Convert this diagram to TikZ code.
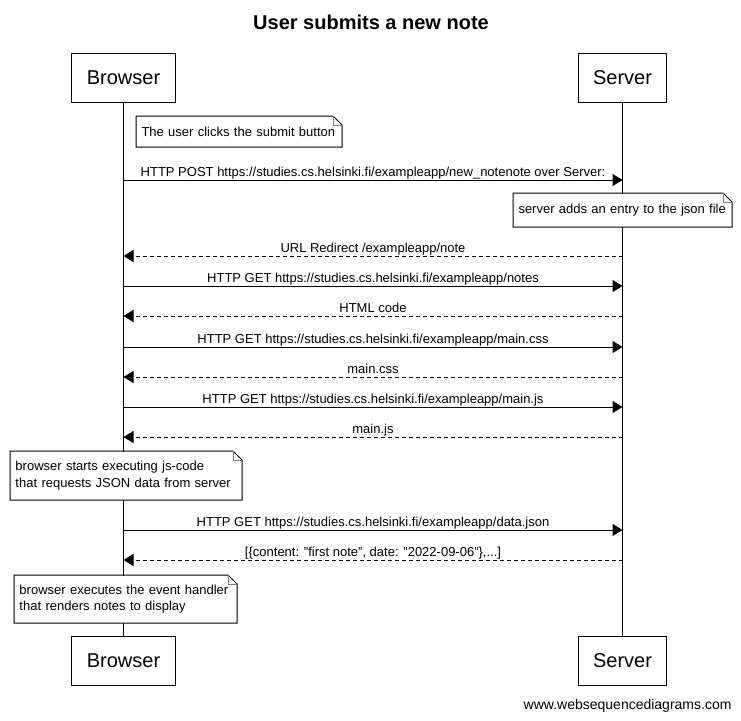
\documentclass[tikz,border=0pt]{standalone}
\usepackage{fontspec}
\setmainfont{Liberation Sans}
\usetikzlibrary{arrows.meta}

% outline of a note with a folded corner
\newcommand\dogear[1]{%
  \draw (#1.north west) -- ([xshift=-9pt]#1.north east) -- ([yshift=-9pt]#1.north east)
    -- (#1.south east) -- (#1.south west) -- cycle;
  \draw[gray] ([xshift=-9pt]#1.north east) |- ([yshift=-9pt]#1.north east);
}

\begin{document}
\begin{tikzpicture}[x=1pt,y=-1pt,line width=1pt,
    actor/.style={draw,fill=white,inner xsep=15pt,minimum height=49pt,font=\fontsize{20}{24}\selectfont},
    note/.style={fill=white,anchor=north west,inner xsep=5pt,inner ysep=0pt,align=left,font=\fontsize{13}{16.5}\selectfont},
    msg/.style={-{Triangle[length=10pt,width=12pt]}},
    reply/.style={msg,dash pattern=on 4pt off 3pt},
    lbl/.style={anchor=base,yshift=4pt,inner sep=0pt,font=\fontsize{13}{15}\selectfont}]
  \useasboundingbox (0,0) rectangle (741,720);

  \node[anchor=base,font=\bfseries\fontsize{20}{24}\selectfont] (title) at (371,29) {User submits a new note};

  \node[actor] (browser) at (123.5,77.5) {Browser};
  \node[actor] (server) at (622.5,77.5) {Server};
  \node[actor] (browserEnd) at (123.5,660.5) {Browser};
  \node[actor] (serverEnd) at (622.5,660.5) {Server};
  \draw (browser) -- (browserEnd);
  \draw (server) -- (serverEnd);

  \foreach \n/\y in {1/180,2/256,3/286,4/316,5/347,6/377,7/407,8/437,9/530,10/560} {
    \coordinate (b\n) at (browser.south |- 0,\y);
    \coordinate (s\n) at (server.south |- 0,\y);
  }

  \node[note,text width=195pt,minimum height=30pt] (n1) at (136,116) {The user clicks the submit button};
  \dogear{n1}
  \draw[msg] (b1) -- node[lbl] {HTTP POST https://studies.cs.helsinki.fi/exampleapp/new\_notenote over Server:} (s1);

  \node[note,text width=208pt,minimum height=33pt] (n2) at (513,193) {server adds an entry to the json file};
  \dogear{n2}

  \draw[reply] (s2) -- node[lbl] {URL Redirect /exampleapp/note} (b2);
  \draw[msg] (b3) -- node[lbl] {HTTP GET https://studies.cs.helsinki.fi/exampleapp/notes} (s3);
  \draw[reply] (s4) -- node[lbl] {HTML code} (b4);
  \draw[msg] (b5) -- node[lbl] {HTTP GET https://studies.cs.helsinki.fi/exampleapp/main.css} (s5);
  \draw[reply] (s6) -- node[lbl] {main.css} (b6);
  \draw[msg] (b7) -- node[lbl] {HTTP GET https://studies.cs.helsinki.fi/exampleapp/main.js} (s7);
  \draw[reply] (s8) -- node[lbl] {main.js} (b8);

  \node[note,text width=221pt,minimum height=48pt] (n3) at (10,451) {browser starts executing js-code\\that requests JSON data from server};
  \dogear{n3}

  \draw[msg] (b9) -- node[lbl] {HTTP GET https://studies.cs.helsinki.fi/exampleapp/data.json} (s9);
  \draw[reply] (s10) -- node[lbl] {[\{content: "first note", date: "2022-09-06"\},...]} (b10);

  \node[note,text width=212pt,minimum height=47pt] (n4) at (14,575) {browser executes the event handler\\that renders notes to display};
  \dogear{n4}

  \node[anchor=base east,inner sep=0pt,font=\fontsize{14}{16}\selectfont] (footer) at (732,709) {www.websequencediagrams.com};
\end{tikzpicture}
\end{document}
